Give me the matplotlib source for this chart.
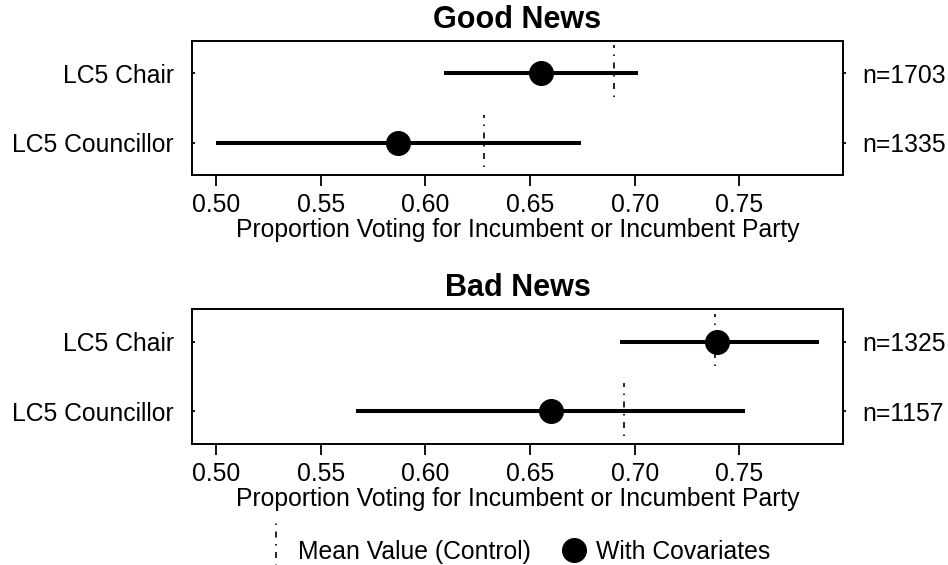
import matplotlib
matplotlib.use("Agg")
import matplotlib.pyplot as plt
from matplotlib.lines import Line2D
from matplotlib.legend_handler import HandlerBase
import numpy as np

plt.rcParams['font.family'] = ['Liberation Sans', 'DejaVu Sans']

categories = ["LC5 Chair", "LC5 Councillor"]

good_est = [0.655, 0.587]
good_lo = [0.609, 0.500]
good_hi = [0.7015, 0.6745]
good_mean = [0.690, 0.628]
good_n = [1703, 1335]

bad_est = [0.7395, 0.660]
bad_lo = [0.693, 0.567]
bad_hi = [0.788, 0.7525]
bad_mean = [0.7385, 0.695]
bad_n = [1325, 1157]

x_ticks = [0.50, 0.55, 0.60, 0.65, 0.70, 0.75]
x_label = "Proportion Voting for Incumbent or Incumbent Party"
titles = ["Good News", "Bad News"]

FS = 17.8
DASH = (0, (0.9, 3.9, 3.6, 3.9))
W, H = 948, 565
fig = plt.figure(figsize=(W / 100, H / 100), dpi=100)

lo_all = min(good_lo + bad_lo)
hi_all = max(good_hi + bad_hi)
span = hi_all - lo_all
xlim = (lo_all - 0.04 * span, hi_all + 0.04 * span)

ypos = np.array([2, 1])

panels = [
    (titles[0], good_est, good_lo, good_hi, good_mean, good_n, [192, 40.7, 843, 175]),
    (titles[1], bad_est, bad_lo, bad_hi, bad_mean, bad_n, [192, 309, 843, 444]),
]

for title, est, lo, hi, mean, n, box in panels:
    l, t, r, b = box
    ax = fig.add_axes([l / W, 1 - b / H, (r - l) / W, (b - t) / H])
    ax.hlines(ypos, lo, hi, color='black', lw=2.9, zorder=2)
    ax.vlines(mean, ypos - 0.35, ypos + 0.40, color='black', lw=1.2,
              linestyles=[DASH], zorder=1)
    ax.plot(est, ypos, 'o', color='black', ms=17, zorder=3)
    ax.set_xlim(*xlim)
    ax.set_ylim(0.535, 2.465)
    ax.set_xticks(x_ticks)
    ax.set_xticklabels([f"{v:.2f}" for v in x_ticks])
    ax.set_yticks(ypos)
    ax.set_yticklabels(categories)
    ax.tick_params(axis='x', direction='out', length=8, width=1.3, pad=5,
                   labelsize=FS, colors='black')
    ax.tick_params(axis='y', direction='in', length=1.8, width=1.3, pad=13,
                   labelsize=FS)
    for s in ax.spines.values():
        s.set_linewidth(1.4)
    ax.set_xlabel(x_label, fontsize=FS, labelpad=1)
    ax.set_title(title, fontsize=22, fontweight='bold', pad=9)
    sec = ax.secondary_yaxis('right')
    sec.set_yticks(ypos)
    sec.set_yticklabels([f"n={v}" for v in n])
    sec.tick_params(direction='out', length=1.8, width=1.3, pad=12, labelsize=FS)
    sec.spines['right'].set_visible(False)


class VLineHandler(HandlerBase):
    def create_artists(self, legend, orig_handle, xdescent, ydescent,
                       width, height, fontsize, trans):
        x = width / 2 - xdescent
        yc = height / 2 - ydescent
        line = Line2D([x, x], [yc - 1.7 * height, yc + 1.7 * height],
                      color='black', lw=1.2, linestyle=DASH)
        line.set_transform(trans)
        return [line]


mean_proxy = Line2D([], [], color='black')
cov_proxy = Line2D([], [], color='black', marker='o', ms=17, linestyle='None')
fig.legend([mean_proxy, cov_proxy], ["Mean Value (Control)", "With Covariates"],
           handler_map={mean_proxy: VLineHandler()},
           loc='center', bbox_to_anchor=(517 / W, 1 - 552 / H), ncol=2,
           frameon=False, fontsize=FS, handlelength=1.0, handletextpad=0.39,
           columnspacing=1.22, borderpad=0, borderaxespad=0)

fig.savefig("out.png", dpi=100)
